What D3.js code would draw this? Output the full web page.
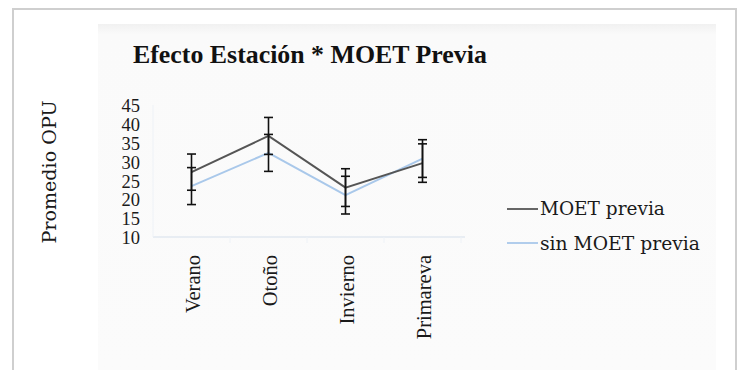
<!DOCTYPE html>
<html><head><meta charset="utf-8">
<script src="https://cdn.jsdelivr.net/npm/d3@7"></script>
<style>
html,body{margin:0;padding:0;background:#fff;}
svg{display:block;}
</style></head>
<body>
<svg id="chart" width="738" height="370"></svg>
<script>
const categories = ["Verano", "Otoño", "Invierno", "Primareva"];
const seriesNames = ["MOET previa", "sin MOET previa"];
const moetPrevia = [27.2, 36.8, 23.1, 29.6];
const moetPreviaErr = [4.8, 4.9, 5.0, 5.1];
const sinMoetPrevia = [23.5, 32.3, 21.1, 30.8];
const sinMoetPreviaErr = [4.9, 4.9, 5.0, 5.0];
const yTicks = [10, 15, 20, 25, 30, 35, 40, 45];
const seriesColors = ["#555555", "#a9c8ea"];

const svg = d3.select("#chart");
const SERIF_A = "DejaVu Serif";
const SERIF_B = "Liberation Serif";

function fit(sel, target) {
  const w = sel.node().getComputedTextLength();
  const fs = +sel.attr("font-size");
  const nfs = fs * target / w;
  sel.attr("font-size", nfs);
  return nfs;
}

// outer frame
svg.append("rect").attr("x", 13).attr("y", 9).attr("width", 723).attr("height", 380)
  .attr("fill", "#fff").attr("stroke", "#cfcfcf").attr("stroke-width", 2);
// inner panel
const grad = svg.append("defs").append("linearGradient").attr("id", "pg")
  .attr("x1", 0).attr("y1", 0).attr("x2", 0).attr("y2", 1);
grad.append("stop").attr("offset", "0").attr("stop-color", "#f1f1f1");
grad.append("stop").attr("offset", "0.03").attr("stop-color", "#fafafa");
grad.append("stop").attr("offset", "1").attr("stop-color", "#fbfbfb");
svg.append("rect").attr("x", 98).attr("y", 24).attr("width", 618).attr("height", 346)
  .attr("fill", "url(#pg)");

const x = d3.scaleBand().domain(categories).range([153, 461]);
const y = d3.scaleLinear().domain([10, 45]).range([237, 105]);

// title
const title = svg.append("text").attr("x", 133).attr("y", 63)
  .attr("font-size", 26).attr("font-weight", "bold").attr("fill", "#111")
  .attr("font-family", SERIF_B)
  .text("Efecto Estación * MOET Previa");
fit(title, 354);

// y axis title
const yt = svg.append("text").attr("transform", "translate(56,172) rotate(-90)")
  .attr("text-anchor", "middle").attr("font-size", 18).attr("font-family", SERIF_A)
  .attr("fill", "#1a1a1a")
  .text("Promedio OPU");
fit(yt, 143);

// axis line & faint left line
svg.append("line").attr("x1", 153).attr("x2", 465).attr("y1", y(10)).attr("y2", y(10))
  .attr("stroke", "#e2e8f0").attr("stroke-width", 1.5);
svg.append("line").attr("x1", 153).attr("x2", 153).attr("y1", y(45)).attr("y2", y(10))
  .attr("stroke", "#eef2f7").attr("stroke-width", 1);
svg.append("g").selectAll("line").data(categories).join("line")
  .attr("x1", d => x(d) + x.bandwidth()).attr("x2", d => x(d) + x.bandwidth())
  .attr("y1", y(10)).attr("y2", y(10) + 6)
  .attr("stroke", "#eef2f7");

// y tick labels
const yAxis = d3.axisLeft(y).tickValues(yTicks).tickSize(0).tickPadding(0);
const ga = svg.append("g").attr("transform", "translate(140,0)").call(yAxis);
ga.select(".domain").remove();
ga.attr("font-family", null).attr("font-size", null);
ga.selectAll("text").attr("font-size", 18.5).attr("font-family", SERIF_B)
  .attr("fill", "#1a1a1a").attr("dy", "0.36em");

// x category labels
const xAxis = d3.axisBottom(x).tickSize(0).tickPadding(0);
const gx = svg.append("g").call(xAxis);
gx.select(".domain").remove();
gx.attr("font-family", null).attr("font-size", null);
gx.selectAll(".tick").attr("transform", d => `translate(${x(d) + x.bandwidth()/2 + 2},255) rotate(-90)`);
gx.selectAll("text").attr("font-size", 20.5).attr("font-family", SERIF_B)
  .attr("fill", "#1a1a1a").attr("text-anchor", "end")
  .attr("x", 0).attr("y", 0).attr("dy", "0.33em");

// lines
const cx = d => x(d) + x.bandwidth()/2;
const series = [
  {name: seriesNames[0], vals: moetPrevia, err: moetPreviaErr, color: seriesColors[0]},
  {name: seriesNames[1], vals: sinMoetPrevia, err: sinMoetPreviaErr, color: seriesColors[1]}
];
const line = d3.line().x((d, i) => cx(categories[i])).y(d => y(d));
[series[1], series[0]].forEach(s => {
  svg.append("path").attr("d", line(s.vals)).attr("fill", "none")
    .attr("stroke", s.color).attr("stroke-width", 2);
});
// error bars
series.forEach(s => {
  const g = svg.append("g");
  s.vals.forEach((v, i) => {
    const xc = cx(categories[i]);
    g.append("line").attr("x1", xc).attr("x2", xc).attr("y1", y(v + s.err[i])).attr("y2", y(v - s.err[i]))
      .attr("stroke", "#111").attr("stroke-width", 1.6);
    [v + s.err[i], v - s.err[i]].forEach(e => {
      g.append("line").attr("x1", xc - 4.5).attr("x2", xc + 4.5).attr("y1", y(e)).attr("y2", y(e))
        .attr("stroke", "#111").attr("stroke-width", 1.6);
    });
  });
});

// legend
const lg = svg.append("g");
const legTargets = [125, 160];
series.forEach((s, i) => {
  const ly = 209 + i * 34;
  lg.append("line").attr("x1", 507).attr("x2", 538).attr("y1", ly).attr("y2", ly)
    .attr("stroke", s.color).attr("stroke-width", 1.8);
  const t = lg.append("text").attr("x", 540).attr("y", ly).attr("dy", "0.35em")
    .attr("font-size", 18).attr("font-family", SERIF_A).attr("fill", "#1a1a1a").text(s.name);
  fit(t, legTargets[i]);
});
</script>
</body></html>
